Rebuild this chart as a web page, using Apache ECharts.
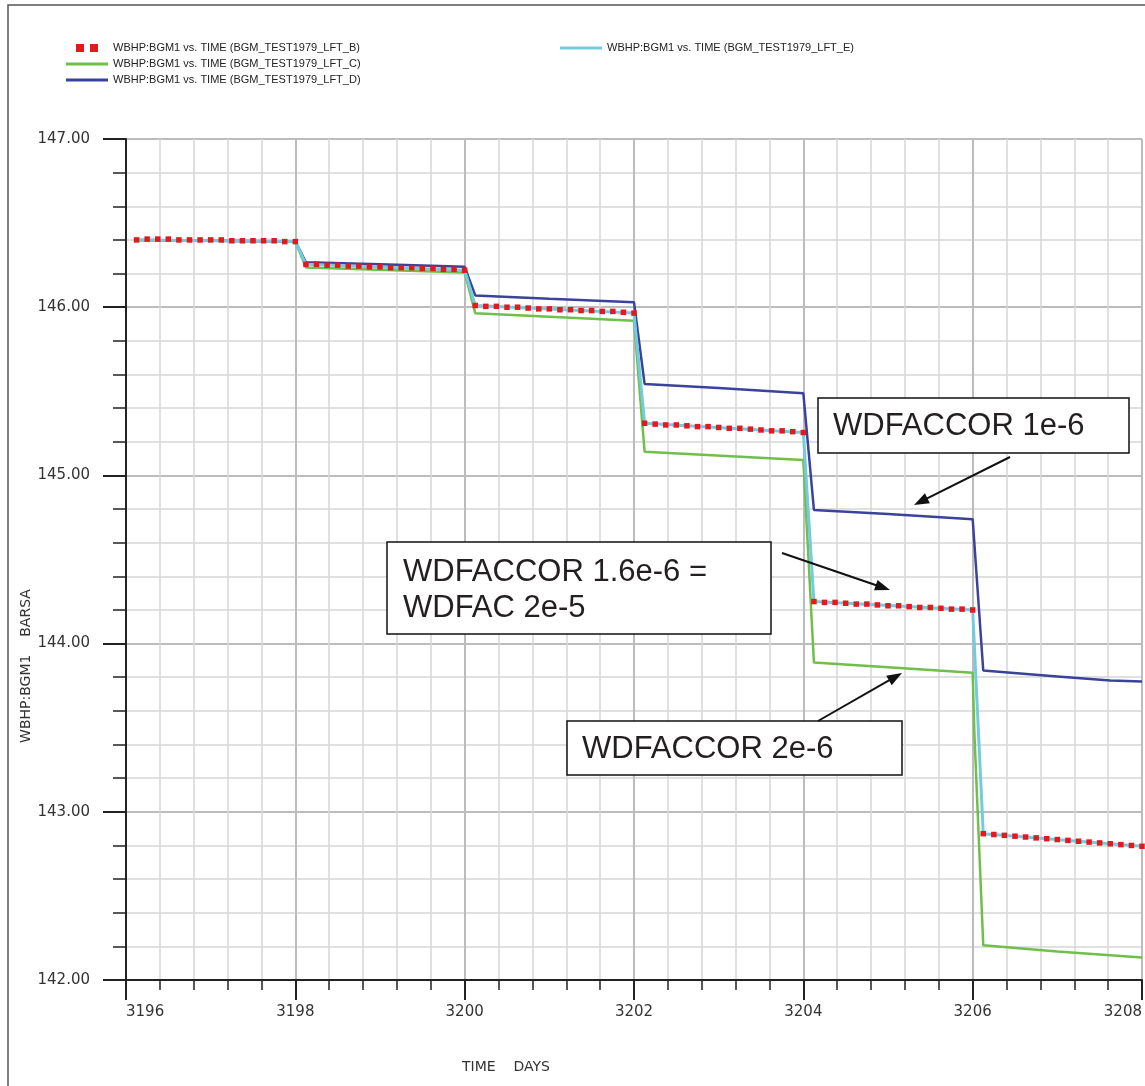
<!DOCTYPE html>
<html>
<head>
<meta charset="utf-8">
<script src="https://cdn.jsdelivr.net/npm/echarts@6/dist/echarts.min.js"></script>
<style>
html,body{margin:0;padding:0;background:#fff;}
#chart{width:1145px;height:1086px;}
</style>
</head>
<body>
<div id="chart"></div>
<script>
// ---- Data ----
const seriesNames = [
  'WBHP:BGM1 vs. TIME (BGM_TEST1979_LFT_B)',
  'WBHP:BGM1 vs. TIME (BGM_TEST1979_LFT_C)',
  'WBHP:BGM1 vs. TIME (BGM_TEST1979_LFT_D)',
  'WBHP:BGM1 vs. TIME (BGM_TEST1979_LFT_E)'
];

// report steps of case B (red square markers)
const stepDaysB = [
  3196.125,3196.25,3196.375,3196.5,3196.625,3196.75,3196.875,3197,3197.125,3197.25,3197.375,3197.5,3197.625,3197.75,3197.875,3198,
  3198.125,3198.25,3198.375,3198.5,3198.625,3198.75,3198.875,3199,3199.125,3199.25,3199.375,3199.5,3199.625,3199.75,3199.875,3200,
  3200.125,3200.25,3200.375,3200.5,3200.625,3200.75,3200.875,3201,3201.125,3201.25,3201.375,3201.5,3201.625,3201.75,3201.875,3202,
  3202.125,3202.25,3202.375,3202.5,3202.625,3202.75,3202.875,3203,3203.125,3203.25,3203.375,3203.5,3203.625,3203.75,3203.875,3204,
  3204.125,3204.25,3204.375,3204.5,3204.625,3204.75,3204.875,3205,3205.125,3205.25,3205.375,3205.5,3205.625,3205.75,3205.875,3206,
  3206.125,3206.25,3206.375,3206.5,3206.625,3206.75,3206.875,3207,3207.125,3207.25,3207.375,3207.5,3207.625,3207.75,3207.875,3208
];
const wbhpB = [
  146.40,146.405,146.405,146.405,146.40,146.40,146.40,146.40,146.40,146.395,146.395,146.395,146.395,146.395,146.39,146.39,
  146.255,146.255,146.25,146.25,146.245,146.245,146.24,146.24,146.235,146.235,146.235,146.23,146.23,146.225,146.225,146.22,
  146.01,146.005,146.005,146.0,146.0,145.995,145.99,145.99,145.985,145.985,145.98,145.98,145.975,145.975,145.97,145.965,
  145.31,145.305,145.30,145.30,145.295,145.29,145.29,145.285,145.28,145.28,145.275,145.27,145.265,145.265,145.26,145.255,
  144.25,144.245,144.245,144.24,144.235,144.235,144.23,144.225,144.225,144.22,144.215,144.215,144.21,144.205,144.205,144.20,
  142.87,142.865,142.86,142.855,142.85,142.845,142.84,142.835,142.83,142.825,142.82,142.815,142.81,142.805,142.80,142.795
];

// case C (green)
const daysC = [3196.125,3198,3198.125,3200,3200.125,3202,3202.125,3204,3204.125,3205,3206,3206.02,3206.125,3207,3208];
const wbhpC = [146.40,146.39,146.236,146.206,145.964,145.92,145.141,145.092,143.888,143.86,143.826,143.47,142.207,142.17,142.134];

// case D (blue)
const daysD = [3196.125,3198,3198.125,3199,3200,3200.125,3201,3202,3202.125,3203,3204,3204.125,3205,3206,3206.125,3207,3207.625,3208];
const wbhpD = [146.40,146.39,146.267,146.255,146.24,146.07,146.05,146.03,145.544,145.52,145.488,144.795,144.77,144.74,143.84,143.805,143.78,143.775];

// case E (cyan)
const daysE = [3196.125,3198,3198.125,3200,3200.125,3202,3202.125,3204,3204.125,3206,3206.125,3208];
const wbhpE = [146.40,146.39,146.255,146.22,146.01,145.965,145.31,145.255,144.25,144.20,142.87,142.795];

const xTicks = { min: 3196, max: 3208, step: 2 };
const yTicks = { min: 142, max: 147, step: 1 };

const annotations = [
  { lines: ['WDFACCOR 1e-6'] },
  { lines: ['WDFACCOR 1.6e-6 =', 'WDFAC 2e-5'] },
  { lines: ['WDFACCOR 2e-6'] }
];

// ---- build ----
function pairs(xs, ys) { return xs.map((x, i) => [x, ys[i]]); }

const LINE_ICON = 'path://M0,0h44v3h-44z';
const DOTS_ICON = 'path://M0,0h8v8h-8z M14,0h8v8h-8z';
const legendText = { fontFamily: 'Liberation Sans', fontSize: 11, color: '#222', lineHeight: 12 };

function arrow(x1, y1, x2, y2) {
  const dx = x2 - x1, dy = y2 - y1, len = Math.sqrt(dx*dx + dy*dy);
  const ux = dx / len, uy = dy / len, nx = -uy, ny = ux;
  const L = 15, W = 5.5;
  const bx = x2 - ux * L, by = y2 - uy * L;
  return [
    { type: 'line', z: 100, shape: { x1: x1, y1: y1, x2: bx + ux * 2, y2: by + uy * 2 }, style: { stroke: '#111', lineWidth: 2 } },
    { type: 'polygon', z: 100, shape: { points: [[x2, y2], [bx + nx * W, by + ny * W], [bx - nx * W, by - ny * W]] }, style: { fill: '#111' } }
  ];
}

function box(x, y, w, h) {
  return { type: 'rect', z: 100, shape: { x: x, y: y, width: w, height: h }, style: { fill: '#fff', stroke: '#111', lineWidth: 1.5 } };
}
function label(x, y, text) {
  return { type: 'text', z: 101, x: x, y: y, style: { text: text, font: '31px "Liberation Sans"', fill: '#231f20', align: 'left', verticalAlign: 'middle' } };
}

const graphic = [
  { type: 'rect', z: 0, silent: true, shape: { x: 8, y: 5, width: 1300, height: 1300 }, style: { fill: 'none', stroke: '#555', lineWidth: 1.5 } },
  { type: 'text', z: 50, x: 506, y: 1067, style: { text: 'TIME    DAYS', font: '14px "DejaVu Sans"', fill: '#333', align: 'center', verticalAlign: 'middle' } },
  { type: 'text', z: 50, x: 26, y: 666, rotation: Math.PI / 2, style: { text: 'WBHP:BGM1    BARSA', font: '14px "DejaVu Sans"', fill: '#333', align: 'center', verticalAlign: 'middle' } },
  box(818, 398, 311, 55), label(833, 426, annotations[0].lines[0]),
  box(387, 542, 384, 92), label(403, 572, annotations[1].lines[0]), label(403, 608, annotations[1].lines[1]),
  box(567, 721, 335, 54), label(582, 749, annotations[2].lines[0])
].concat(arrow(1010, 457, 914, 505), arrow(782, 553, 890, 590), arrow(818, 721, 902, 673));

const axisFont = { fontFamily: 'DejaVu Sans', fontSize: 15, color: '#333' };

const option = {
  animation: false,
  backgroundColor: '#fff',
  grid: { left: 126, right: 0, top: 139, bottom: 106, containLabel: false },
  legend: [
    {
      orient: 'vertical', left: 61, top: 37, itemWidth: 42, itemHeight: 8, itemGap: 4,
      selectedMode: false, textStyle: legendText,
      data: [
        { name: seriesNames[0], icon: DOTS_ICON, itemStyle: { color: '#e3191e', opacity: 1 } },
        { name: seriesNames[1], icon: LINE_ICON },
        { name: seriesNames[2], icon: LINE_ICON }
      ]
    },
    {
      orient: 'vertical', left: 555, top: 37, itemWidth: 42, itemHeight: 8, itemGap: 4,
      selectedMode: false, textStyle: legendText,
      data: [{ name: seriesNames[3], icon: LINE_ICON }]
    }
  ],
  xAxis: {
    type: 'value', min: xTicks.min, max: xTicks.max, interval: xTicks.step,
    axisLine: { show: true, onZero: false, lineStyle: { color: '#222', width: 2 } },
    axisTick: { show: true, length: 20, lineStyle: { color: '#222', width: 2 } },
    minorTick: { show: true, splitNumber: 5, length: 10, lineStyle: { color: '#222', width: 1.5 } },
    axisLabel: Object.assign({ margin: 25, alignMinLabel: 'left', alignMaxLabel: 'right', formatter: v => String(v) }, axisFont),
    splitLine: { show: true, lineStyle: { color: '#bcbcbc', width: 2 } },
    minorSplitLine: { show: true, lineStyle: { color: '#d6d6d6', width: 1.5 } }
  },
  yAxis: {
    type: 'value', min: yTicks.min, max: yTicks.max, interval: yTicks.step,
    axisLine: { show: true, onZero: false, lineStyle: { color: '#222', width: 2 } },
    axisTick: { show: true, length: 23, lineStyle: { color: '#222', width: 2 } },
    minorTick: { show: true, splitNumber: 5, length: 13, lineStyle: { color: '#222', width: 1.5 } },
    axisLabel: Object.assign({ margin: 36, formatter: v => v.toFixed(2) }, axisFont),
    splitLine: { show: true, lineStyle: { color: '#bcbcbc', width: 2 } },
    minorSplitLine: { show: true, lineStyle: { color: '#d6d6d6', width: 1.5 } }
  },
  series: [
    {
      name: seriesNames[2], type: 'line', data: pairs(daysD, wbhpD), showSymbol: false, symbol: 'none',
      color: '#3b429a', lineStyle: { color: '#3b429a', width: 2.5 }, z: 2
    },
    {
      name: seriesNames[1], type: 'line', data: pairs(daysC, wbhpC), showSymbol: false, symbol: 'none',
      color: '#6fbf4a', lineStyle: { color: '#6fbf4a', width: 2.5 }, z: 3
    },
    {
      name: seriesNames[3], type: 'line', data: pairs(daysE, wbhpE), showSymbol: false, symbol: 'none',
      color: '#74cbe0', lineStyle: { color: '#74cbe0', width: 3 }, z: 4
    },
    {
      name: seriesNames[0], type: 'scatter', data: pairs(stepDaysB, wbhpB), symbol: 'rect', symbolSize: 5.5,
      color: '#e3191e', itemStyle: { color: '#e3191e', opacity: 1 }, z: 5
    }
  ],
  graphic: graphic
};

const chart = echarts.init(document.getElementById('chart'), null, { renderer: 'canvas' });
chart.setOption(option);
</script>
</body>
</html>
